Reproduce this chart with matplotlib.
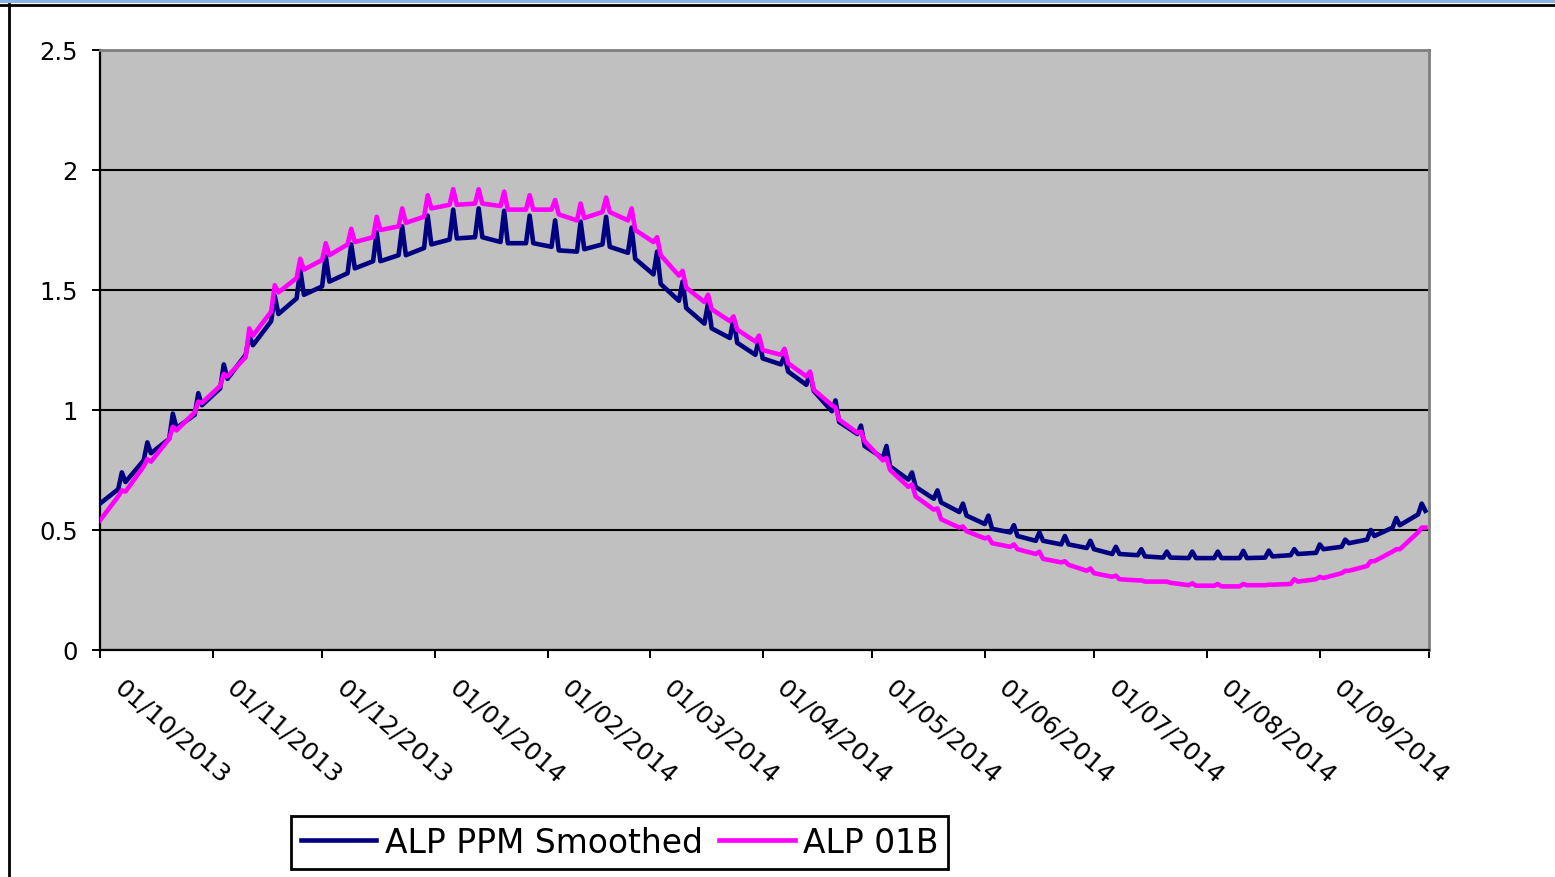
import numpy as np
import pandas as pd
import matplotlib
matplotlib.use("Agg")
import matplotlib.pyplot as plt
from matplotlib.lines import Line2D
from matplotlib.patches import Rectangle
from matplotlib.transforms import ScaledTranslation

# spike days (mondays) 07/10/2013 .. 29/09/2014
mondays = pd.date_range("2013-10-07", "2014-09-29", freq="7D")
first_day = pd.Timestamp("2013-10-01")

names = ["ALP PPM Smoothed", "ALP 01B"]

# ALP PPM Smoothed: value on 01/10/2013, then sunday before / monday / tuesday of each week
ppm_start = 0.61
ppm_sun = [0.67, 0.79, 0.88, 0.98, 1.09, 1.23, 1.37, 1.465, 1.515, 1.57,
           1.62, 1.645, 1.675, 1.71, 1.72, 1.70, 1.695, 1.68, 1.66, 1.69,
           1.655, 1.565, 1.455, 1.36, 1.30, 1.23, 1.19, 1.105, 0.995, 0.90,
           0.80, 0.71, 0.63, 0.575, 0.525, 0.49, 0.455, 0.44, 0.425, 0.40,
           0.395, 0.385, 0.383, 0.383, 0.383, 0.385, 0.395, 0.405, 0.43, 0.46,
           0.51, 0.565]
ppm_mon = [0.74, 0.865, 0.985, 1.07, 1.19, 1.31, 1.475, 1.585, 1.64, 1.69,
           1.74, 1.765, 1.81, 1.835, 1.84, 1.83, 1.81, 1.79, 1.785, 1.805,
           1.76, 1.66, 1.535, 1.445, 1.38, 1.30, 1.225, 1.155, 1.04, 0.935,
           0.85, 0.74, 0.665, 0.61, 0.56, 0.52, 0.49, 0.475, 0.455, 0.43,
           0.42, 0.41, 0.41, 0.41, 0.413, 0.414, 0.42, 0.44, 0.46, 0.50,
           0.55, 0.61]
ppm_tue = [0.70, 0.82, 0.925, 1.02, 1.13, 1.27, 1.40, 1.48, 1.535, 1.59,
           1.62, 1.645, 1.69, 1.715, 1.72, 1.695, 1.695, 1.665, 1.67, 1.68,
           1.63, 1.525, 1.425, 1.34, 1.28, 1.215, 1.16, 1.08, 0.95, 0.85,
           0.765, 0.68, 0.615, 0.56, 0.505, 0.475, 0.455, 0.44, 0.42, 0.40,
           0.39, 0.385, 0.383, 0.383, 0.383, 0.39, 0.40, 0.42, 0.445, 0.475,
           0.52, 0.58]

# ALP 01B
b01_start = 0.54
b01_sun = [0.64, 0.765, 0.88, 0.99, 1.10, 1.22, 1.41, 1.55, 1.625, 1.69,
           1.72, 1.765, 1.805, 1.855, 1.86, 1.85, 1.835, 1.835, 1.79, 1.825,
           1.79, 1.70, 1.56, 1.45, 1.37, 1.285, 1.23, 1.14, 1.02, 0.905,
           0.79, 0.68, 0.585, 0.51, 0.465, 0.43, 0.40, 0.365, 0.33, 0.305,
           0.29, 0.285, 0.27, 0.268, 0.265, 0.27, 0.275, 0.295, 0.32, 0.35,
           0.41, 0.49]
b01_mon = [0.665, 0.795, 0.93, 1.035, 1.15, 1.34, 1.52, 1.63, 1.695, 1.755,
           1.805, 1.84, 1.895, 1.92, 1.92, 1.91, 1.895, 1.875, 1.86, 1.885,
           1.84, 1.72, 1.58, 1.48, 1.39, 1.31, 1.255, 1.16, 1.01, 0.91,
           0.80, 0.69, 0.59, 0.515, 0.47, 0.44, 0.41, 0.37, 0.34, 0.31,
           0.29, 0.285, 0.278, 0.275, 0.275, 0.272, 0.295, 0.305, 0.33, 0.37,
           0.42, 0.51]
b01_tue = [0.66, 0.785, 0.915, 1.03, 1.14, 1.31, 1.49, 1.585, 1.645, 1.70,
           1.75, 1.78, 1.84, 1.855, 1.86, 1.835, 1.835, 1.815, 1.80, 1.825,
           1.75, 1.645, 1.51, 1.42, 1.335, 1.25, 1.195, 1.085, 0.96, 0.87,
           0.75, 0.64, 0.545, 0.495, 0.445, 0.42, 0.38, 0.355, 0.32, 0.295,
           0.285, 0.28, 0.268, 0.265, 0.27, 0.272, 0.285, 0.30, 0.33, 0.37,
           0.42, 0.51]

tick_dates = pd.date_range("2013-10-01", "2014-10-01", freq="MS")
tick_labels = [d.strftime("%d/%m/%Y") for d in tick_dates[:-1]] + [""]
y_ticks = [0, 0.5, 1, 1.5, 2, 2.5]


def weekly_path(start, sun, mon, tue):
    xs = [first_day]
    ys = [start]
    one = pd.Timedelta(days=1)
    for d, a, b, c in zip(mondays, sun, mon, tue):
        xs += [d - one, d, d + one]
        ys += [a, b, c]
    return xs, ys


W, H = 1555, 878
fig = plt.figure(figsize=(W / 100, H / 100), dpi=100)
fig.patch.set_facecolor("white")

# outer frame of the sheet
fig.patches.append(Rectangle((0, 1 - 4 / H), 1, 4 / H, transform=fig.transFigure,
                             facecolor="#8DB4E2", edgecolor="none"))
fig.lines.append(Line2D([0, 1], [1 - 5.5 / H] * 2, transform=fig.transFigure, color="black", lw=2))
fig.lines.append(Line2D([8.7 / W] * 2, [0, 1 - 5 / H], transform=fig.transFigure, color="black", lw=2))

ax = fig.add_axes([100 / W, (H - 651) / H, 1329 / W, 600 / H])
ax.set_facecolor("#C0C0C0")

x1, y1 = weekly_path(ppm_start, ppm_sun, ppm_mon, ppm_tue)
x2, y2 = weekly_path(b01_start, b01_sun, b01_mon, b01_tue)
l1, = ax.plot(x1, y1, color="#000080", lw=3.3, label=names[0], zorder=3)
l2, = ax.plot(x2, y2, color="#FF00FF", lw=3.3, label=names[1], zorder=4)

ax.set_xlim(tick_dates[0], tick_dates[-1])
ax.set_ylim(0, 2.5)
ax.set_yticks(y_ticks)
ax.set_yticklabels(["%g" % v for v in y_ticks])
ax.set_xticks(tick_dates)
ax.set_xticklabels(tick_labels)

ax.yaxis.grid(True, color="black", lw=1.5)
ax.set_axisbelow(True)

for s in ["top", "right"]:
    ax.spines[s].set_color("#808080")
    ax.spines[s].set_linewidth(2)
for s in ["left", "bottom"]:
    ax.spines[s].set_color("black")
    ax.spines[s].set_linewidth(1.6)

ax.tick_params(axis="y", direction="out", length=5.8, width=1.4, pad=10, labelsize=17.5)
ax.tick_params(axis="x", direction="out", length=5.8, width=1.4, pad=12, labelsize=18)

shift = ScaledTranslation(0.25, 0, fig.dpi_scale_trans)
for lab in ax.get_xticklabels():
    lab.set_rotation(-41)
    lab.set_rotation_mode("anchor")
    lab.set_ha("left")
    lab.set_va("top")
    lab.set_transform(lab.get_transform() + shift)

leg = fig.legend([l1, l2], names, loc="center", bbox_to_anchor=(619.5 / W, 1 - 843.5 / H),
                 ncol=2, frameon=True, fancybox=False, edgecolor="black", framealpha=1,
                 fontsize=23.7, handlelength=2.3, handletextpad=0.25, columnspacing=0.5,
                 borderpad=0.3, borderaxespad=0)
leg.get_frame().set_linewidth(2)

fig.savefig("out.png", dpi=100)
